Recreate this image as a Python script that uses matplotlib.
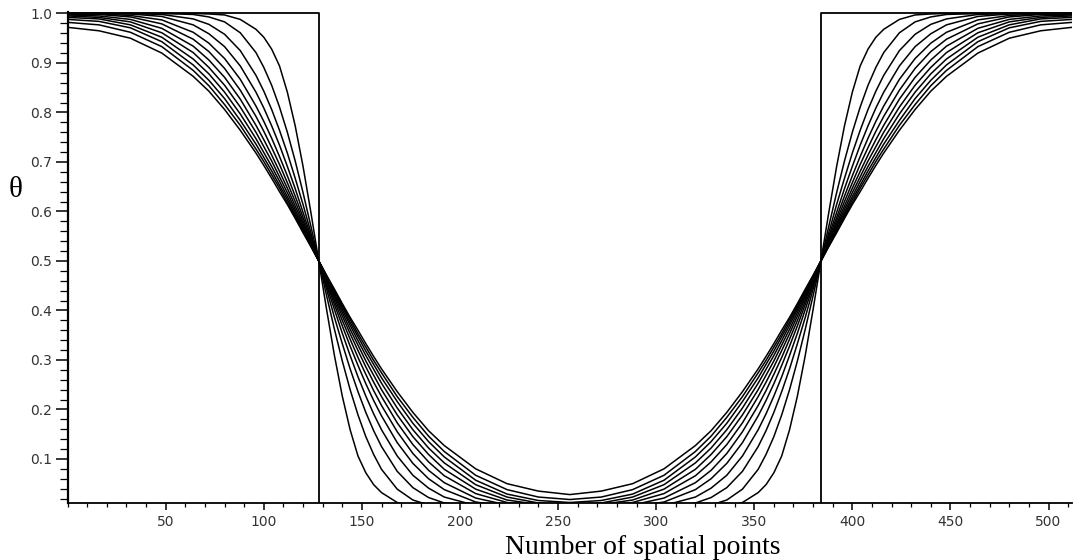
import numpy as np
import matplotlib
matplotlib.use('Agg')
import matplotlib.pyplot as plt
from matplotlib.ticker import MultipleLocator

# distance from the jump (x = 128 - d on the left plateau)
d_grid = [0, 4, 8, 12, 16, 20, 24, 28, 32, 40, 48, 56, 64, 80, 96, 112, 128]

# theta on the upper side of the jump, one list per time level (sharpest first)
curve_01 = [0.5, .598, .691, .773, .841, .894, .928, .952, .968, .988, .997, .999, 1, 1, 1, 1, 1]
curve_02 = [0.5, .570, .638, .702, .760, .811, .855, .891, .921, .961, .983, .993, .998, 1, 1, 1, 1]
curve_03 = [0.5, .557, .614, .667, .718, .764, .806, .843, .875, .925, .958, .978, .989, .998, 1, 1, 1]
curve_04 = [0.5, .550, .598, .646, .691, .734, .773, .809, .841, .894, .933, .959, .977, .994, .999, 1, 1]
curve_05 = [0.5, .545, .588, .631, .672, .711, .748, .782, .813, .867, .909, .940, .962, .987, .996, .999, 1]
curve_06 = [0.5, .540, .581, .620, .658, .695, .729, .762, .792, .845, .889, .923, .948, .979, .993, .998, .999]
curve_07 = [0.5, .537, .575, .611, .647, .681, .714, .745, .774, .827, .871, .906, .934, .970, .988, .995, .997]
curve_08 = [0.5, .535, .570, .604, .638, .670, .702, .731, .760, .811, .855, .891, .921, .961, .983, .992, .995]
curve_09 = [0.5, .533, .566, .598, .630, .661, .691, .719, .747, .797, .841, .878, .908, .952, .977, .989, .992]
curve_10 = [0.5, .531, .562, .593, .624, .653, .682, .709, .736, .784, .828, .865, .896, .943, .971, .984, .988]
curve_11 = [0.5, .530, .560, .589, .618, .647, .674, .701, .726, .774, .816, .854, .885, .933, .962, .977, .982]
curve_12 = [0.5, .529, .557, .586, .614, .640, .667, .693, .718, .764, .806, .843, .873, .920, .950, .965, .972]
curves = [curve_01, curve_02, curve_03, curve_04, curve_05, curve_06,
          curve_07, curve_08, curve_09, curve_10, curve_11, curve_12]

# initial square profile
step_x = [0, 128, 128, 384, 384, 512]
step_y = [1, 1, 0, 0, 1, 1]

x_ticks = [50, 100, 150, 200, 250, 300, 350, 400, 450, 500]
y_ticks = [0.1, 0.2, 0.3, 0.4, 0.5, 0.6, 0.7, 0.8, 0.9, 1.0]


def full_curve(profile):
    # the profile is mirrored about the jumps at 128 / 384 and the centre at 256
    d = np.array(d_grid, dtype=float)
    p = np.array(profile, dtype=float)
    xs = np.concatenate([128 - d[::-1], 128 + d[1:], 384 - d[::-1][1:], 384 + d[1:]])
    ys = np.concatenate([p[::-1], 1 - p[1:], 1 - p[::-1][1:], p[1:]])
    return xs, ys


fig = plt.figure(figsize=(10.77, 5.6), dpi=100)
ax = fig.add_axes([0.0628, 0.1018, 0.9326, 0.8768])

for c in curves:
    xs, ys = full_curve(c)
    ax.plot(xs, ys, color='black', lw=1.1)
ax.plot(step_x, step_y, color='black', lw=1.3)

ax.set_xlim(0, 512)
ax.set_ylim(0.011, 1.003)

ax.spines['top'].set_visible(False)
ax.spines['right'].set_visible(False)
ax.spines['left'].set_linewidth(1.6)
ax.spines['bottom'].set_linewidth(1.3)

ax.set_xticks(x_ticks)
ax.set_xticklabels([str(v) for v in x_ticks])
ax.set_yticks(y_ticks)
ax.set_yticklabels(['%.1f' % v for v in y_ticks])
ax.xaxis.set_minor_locator(MultipleLocator(10))
ax.yaxis.set_minor_locator(MultipleLocator(0.02))

ax.tick_params(axis='x', which='major', length=5, width=1.1, pad=4,
               labelsize=10, labelcolor='#333333')
ax.tick_params(axis='x', which='minor', length=3, width=0.9)
ax.tick_params(axis='y', which='major', length=9, width=1.1, pad=2,
               labelsize=10, labelcolor='#333333')
ax.tick_params(axis='y', which='minor', length=5.5, width=0.9)

fig.text(0.597, 0.0, 'Number of spatial points', fontsize=20,
         family='Liberation Serif', ha='center', va='bottom')
fig.text(0.014, 0.66, '\u03b8', fontsize=21, ha='center', va='center',
         family='Liberation Serif')

fig.savefig('out.png', dpi=100)
